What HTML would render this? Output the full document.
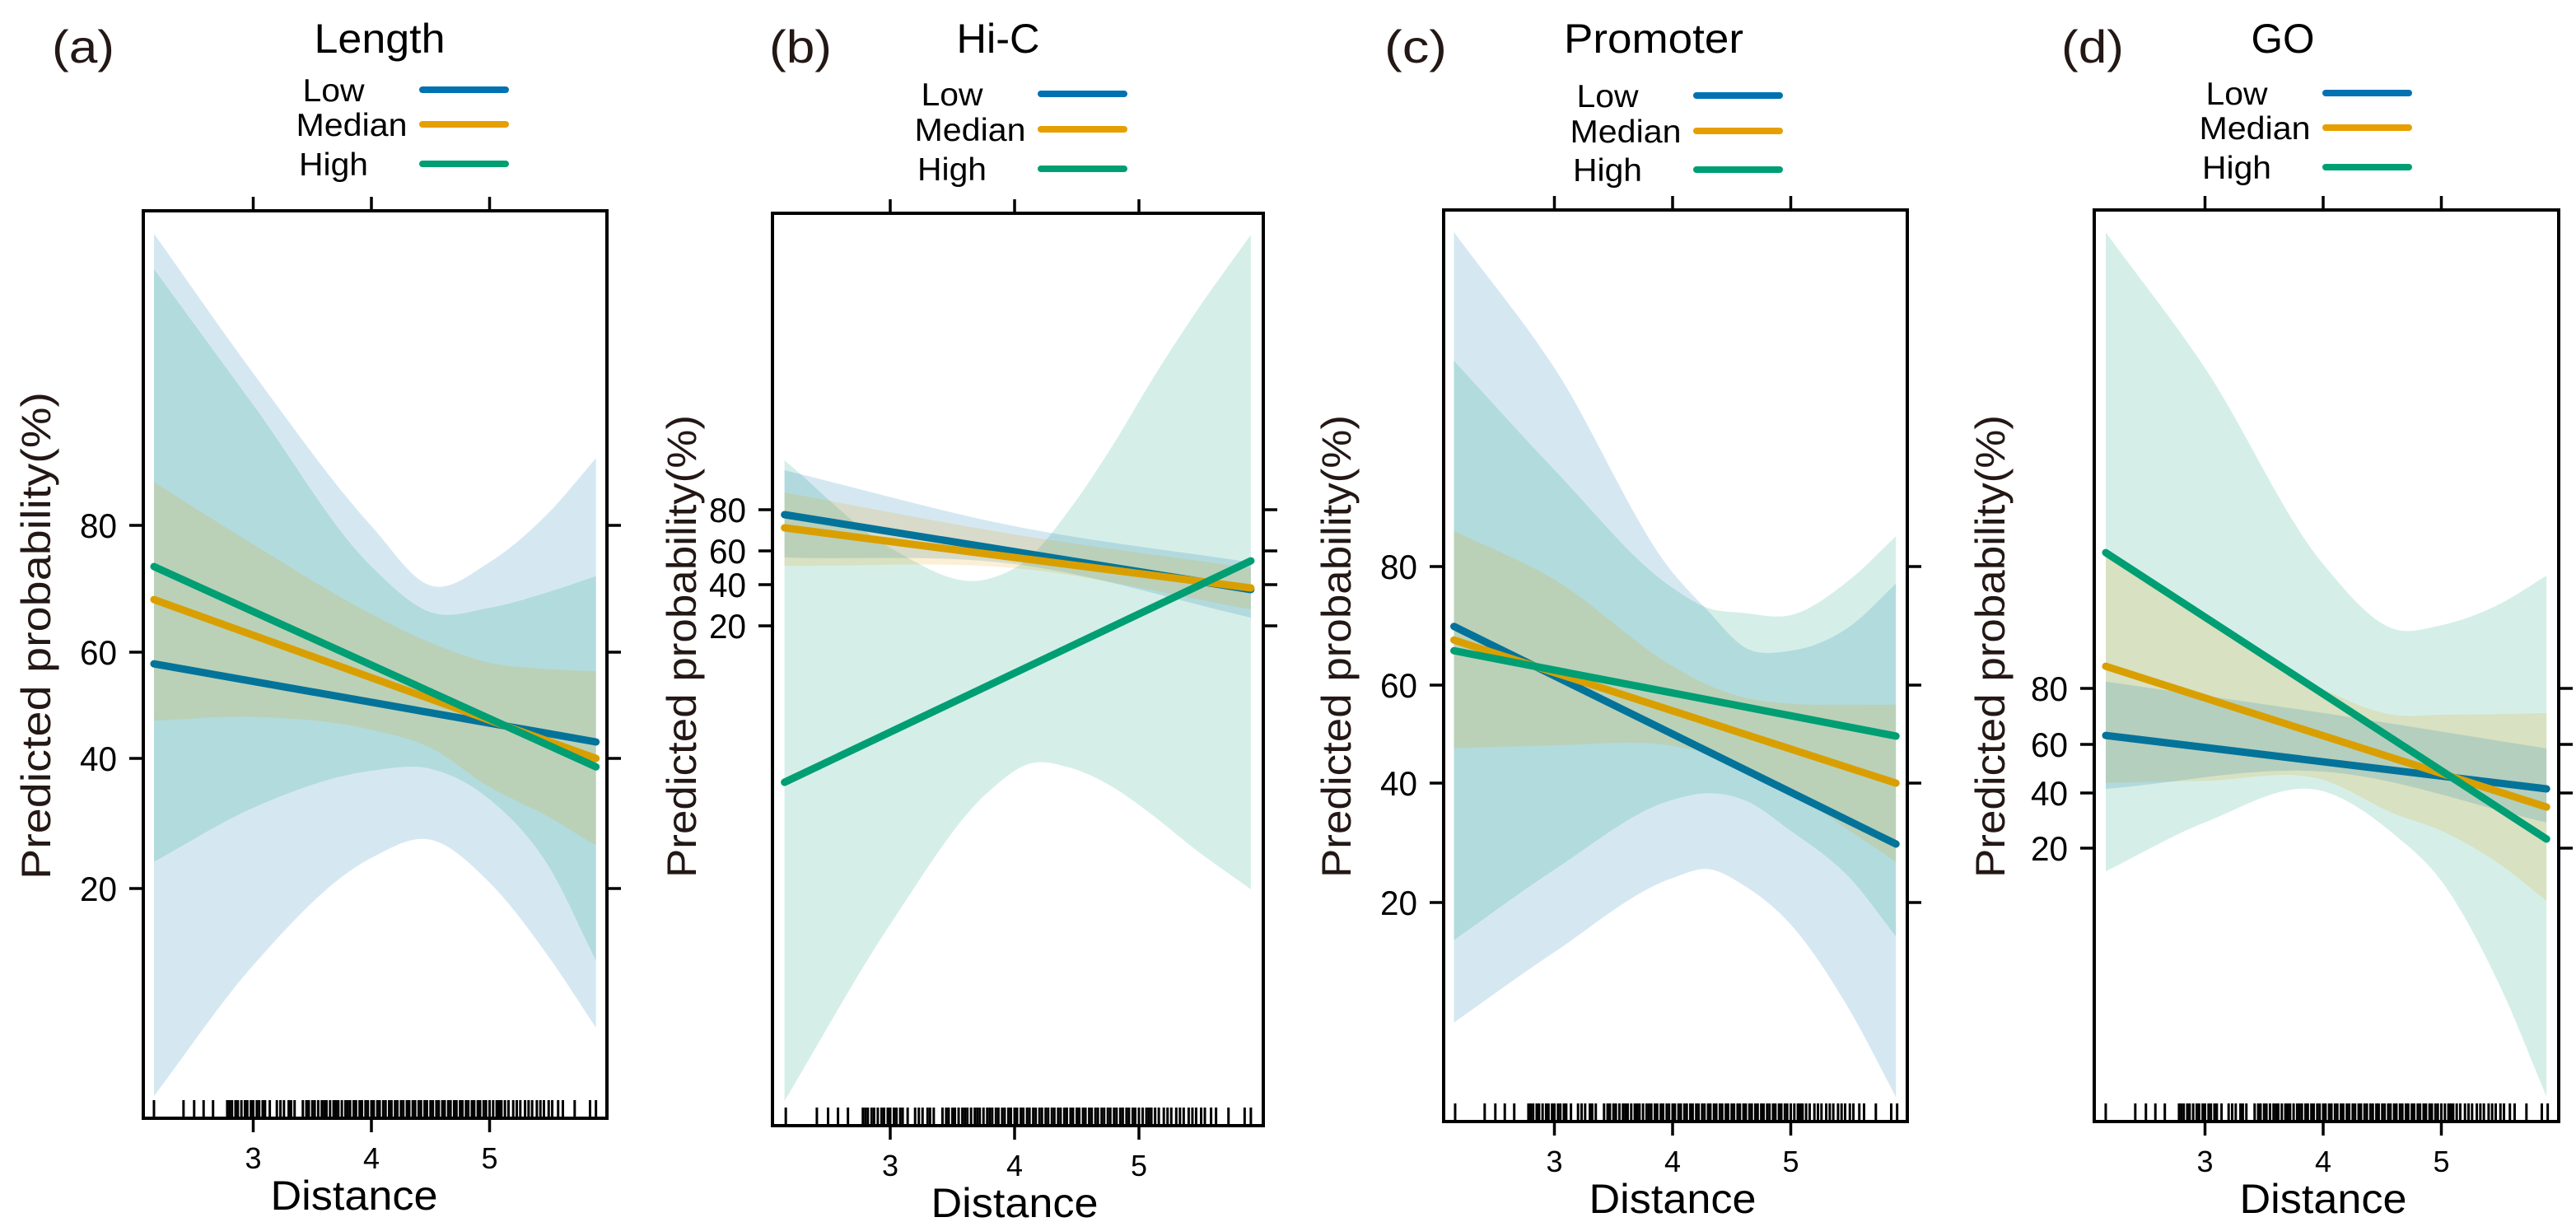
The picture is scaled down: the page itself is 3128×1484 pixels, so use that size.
<!DOCTYPE html>
<html><head><meta charset="utf-8">
<style>
html,body{margin:0;padding:0;background:#fff;}
svg{display:block;font-family:"Liberation Sans",Arial,sans-serif;}
</style></head>
<body>
<svg id="chart" width="3128" height="1484" viewBox="0 0 3128 1484" xmlns="http://www.w3.org/2000/svg"></svg>
<script>
// ---------- shared data ----------
const tickVals = [20, 40, 60, 80];
const xTickVals = [3, 4, 5];
const levelNames = ["Low", "Median", "High"];
const rug = [2.16,2.41,2.5,2.58,2.66,2.78,2.8,2.82,2.85,2.87,2.9,2.93,2.95,2.98,3.0,3.03,3.05,3.08,3.1,3.14,3.2,3.23,3.26,3.3,3.32,3.35,3.42,3.45,3.47,3.5,3.52,3.55,3.58,3.6,3.62,3.65,3.68,3.7,3.72,3.75,3.78,3.8,3.82,3.85,3.87,3.9,3.92,3.95,3.97,4.0,4.02,4.05,4.07,4.1,4.12,4.15,4.17,4.2,4.22,4.25,4.27,4.3,4.32,4.35,4.37,4.4,4.42,4.45,4.47,4.5,4.52,4.55,4.57,4.6,4.62,4.65,4.67,4.7,4.72,4.75,4.77,4.8,4.82,4.85,4.87,4.9,4.92,4.95,4.97,5.0,5.03,5.06,5.08,5.1,5.13,5.16,5.2,5.23,5.26,5.3,5.33,5.36,5.4,5.43,5.46,5.5,5.53,5.58,5.62,5.72,5.85,5.9];

// ---------- panel (a) Length ----------
const aLineX = [2.16, 5.9];
const aLow = [57.8, 43.1];
const aMed = [68.3, 40.0];
const aHigh = [73.5, 38.7];
const aBandX = [2.16, 3, 4, 4.5, 5, 5.5, 5.9];
const aLowUp = [126, 104, 79.9, 70.5, 74.2, 82, 90.6];
const aLowLo = [-11.9, 8.2, 24.7, 27.5, 20.9, 9.5, -1.4];
const aHighUp = [120.4, 99, 73.5, 66.3, 67, 69.5, 72];
const aHighLo = [24.1, 32.4, 38.1, 38.4, 33.7, 23.4, 8.9];
const aMedUp = [86.8, 77, 66, 61.5, 58, 56.8, 56.4];
const aMedLo = [47.1, 47.8, 45.4, 42, 35.6, 31, 26.6];

// ---------- panel (b) Hi-C ----------
const bLineX = [2.15, 5.9];
const bLow = [77.6, 37.6];
const bMed = [71.2, 38.4];
const bHigh = [-56, 54.1];
const bHighBandX = [2.15, 3, 3.79, 4.12, 4.45, 4.78, 5.11, 5.44, 5.9];
const bHighUp = [104, 61.5, 43.4, 56.1, 80.8, 110.4, 143.6, 174.4, 213.6];
const bHighLo = [-210.8, -125, -60.6, -47, -49, -58, -72, -88, -108];
const bBandX = [2.15, 4, 5.9];
const bLowUp = [99.2, 72, 53.2];
const bLowLo = [56.1, 52.2, 24];
const bMedUp = [88.4, 68, 49.8];
const bMedLo = [51.2, 49.8, 28];

// ---------- panel (c) Promoter ----------
const cLineX = [2.15, 5.89];
const cLow = [69.9, 29.8];
const cMed = [67.6, 40.0];
const cHigh = [65.8, 49.6];
const cBandX = [2.15, 3, 4, 4.3, 4.6, 5, 5.5, 5.89];
const cLowUp = [136.4, 113.5, 79, 72.5, 66.5, 65.8, 69.9, 77.1];
const cLowLo = [-0.1, 11.7, 24.1, 25.6, 22.9, 16.3, 1.9, -12.6];
const cHighUp = [114.7, 96.3, 76.4, 73, 72.2, 71.8, 77.8, 85.1];
const cHighLo = [13.7, 25.5, 37.2, 38.3, 37.2, 32, 24.1, 14.3];
const cMedUp = [86, 77.8, 63.2, 60, 57.5, 56.2, 56, 56];
const cMedLo = [47.1, 47.7, 47.6, 46, 43, 38.6, 32, 26.8];

// ---------- panel (d) GO ----------
const dLineX = [2.16, 5.89];
const dLow = [63.2, 41.7];
const dMed = [87.9, 34.9];
const dHigh = [128.5, 23.3];
const dBandX = [2.16, 3, 4, 4.6, 5, 5.5, 5.89];
const dHighUp = [242.9, 194.4, 124.4, 101.2, 102.6, 110.3, 120.3];
const dHighLo = [11.6, 29.3, 40.7, 25, 8.1, -30.4, -70.1];
const dMedUp = [128.5, 105, 79.7, 70.5, 70.6, 70.8, 71.2];
const dMedLo = [44.1, 45, 45.4, 32.5, 26.3, 14, 0.9];
const dLowBandX = [2.16, 4, 5.89];
const dLowUp = [82.4, 71.2, 58.3];
const dLowLo = [41.7, 48.8, 29.3];

// ---------- layout (pixel geometry, not data) ----------
const panels = [
  {id:"a", tag:"(a)", tagX:101, title:"Length", titleW:159, L:174, R:737, T:256, B:1358, x4:451, ppu:143.5,
   ty:[1079,921,792,638], legX:513, legY:[109,151,199], titleY:64, ylabX:44, ylabY:772, ylabW:592,
   lineX:aLineX, lines:[aLow,aMed,aHigh],
   bands:[[aBandX,aLowUp,aLowLo,0],[aBandX,aHighUp,aHighLo,2],[aBandX,aMedUp,aMedLo,1]]},
  {id:"b", tag:"(b)", tagX:972, title:"Hi-C", titleW:101, L:938, R:1534, T:259, B:1367, x4:1232, ppu:151,
   ty:[760,710,669,619], legX:1264, legY:[114,157,205], titleY:64, ylabX:828, ylabY:785, ylabW:562,
   lineX:bLineX, lines:[bLow,bMed,bHigh],
   bands:[[bHighBandX,bHighUp,bHighLo,2],[bBandX,bLowUp,bLowLo,0],[bBandX,bMedUp,bMedLo,1]]},
  {id:"c", tag:"(c)", tagX:1719, title:"Promoter", titleW:218, L:1753, R:2316, T:255, B:1362, x4:2031, ppu:143.5,
   ty:[1096,951,832,688], legX:2060, legY:[116,159,206], titleY:64, ylabX:1623, ylabY:785, ylabW:562,
   lineX:cLineX, lines:[cLow,cMed,cHigh],
   bands:[[cBandX,cLowUp,cLowLo,0],[cBandX,cHighUp,cHighLo,2],[cBandX,cMedUp,cMedLo,1]]},
  {id:"d", tag:"(d)", tagX:2541, title:"GO", titleW:77, L:2543, R:3107, T:255, B:1362, x4:2821, ppu:143.5,
   ty:[1030,963,904,836], legX:2824, legY:[113,155,203], titleY:64, ylabX:2417, ylabY:785, ylabW:562,
   lineX:dLineX, lines:[dLow,dMed,dHigh],
   bands:[[dBandX,dHighUp,dHighLo,2],[dBandX,dMedUp,dMedLo,1],[dLowBandX,dLowUp,dLowLo,0]]}
];
const lineColors = ["#0072B2", "#E69F00", "#009E73"];
const drawColors = ["#03739a", "#d99f00", "#009E73"];
const NS = "http://www.w3.org/2000/svg";
const svg = document.getElementById("chart");

function mk(tag, attrs, parent){
  const e = document.createElementNS(NS, tag);
  for (const k in attrs) e.setAttribute(k, attrs[k]);
  (parent || svg).appendChild(e);
  return e;
}
function xScale(p, d){ return p.x4 + (d - 4) * p.ppu; }
function yScale(p, v){
  const t = tickVals, y = p.ty;
  let i = 0;
  if (v <= t[0]) i = 0;
  else if (v >= t[t.length-1]) i = t.length - 2;
  else { while (v > t[i+1]) i++; }
  return y[i] + (v - t[i]) * (y[i+1] - y[i]) / (t[i+1] - t[i]);
}
function smooth(pts){
  const n = pts.length;
  const sec = [];
  for (let i = 0; i < n - 1; i++) sec.push((pts[i+1][1]-pts[i][1])/(pts[i+1][0]-pts[i][0]));
  const m = [];
  for (let i = 0; i < n; i++){
    if (i === 0) m.push(sec[0]);
    else if (i === n-1) m.push(sec[n-2]);
    else {
      const h0 = pts[i][0]-pts[i-1][0], h1 = pts[i+1][0]-pts[i][0];
      m.push((sec[i-1]*h1 + sec[i]*h0)/(h0+h1));
    }
  }
  let s = "";
  for (let i = 0; i < n - 1; i++){
    const dx = pts[i+1][0]-pts[i][0];
    const c1x = pts[i][0] + dx/3, c1y = pts[i][1] + m[i]*dx/3;
    const c2x = pts[i+1][0] - dx/3, c2y = pts[i+1][1] - m[i+1]*dx/3;
    s += " C" + c1x.toFixed(1) + "," + c1y.toFixed(1) + " " + c2x.toFixed(1) + "," + c2y.toFixed(1) + " " + pts[i+1][0].toFixed(1) + "," + pts[i+1][1].toFixed(1);
  }
  return s;
}

panels.forEach(p => {
  const g = mk("g", {});
  
  

  const clip = mk("clipPath", {id:"clip-" + p.id}, g);
  mk("rect", {x:p.L, y:p.T, width:p.R-p.L, height:p.B-p.T}, clip);

  const tag = mk("text", {x:p.tagX, y:76, "font-size":56, fill:"#231815", "text-anchor":"middle", textLength:76, lengthAdjust:"spacingAndGlyphs"}, g);
  tag.textContent = p.tag;
  
  

  const tt = mk("text", {x:p.legX - 52, y:p.titleY, "font-size":50, fill:"#000", "text-anchor":"middle", textLength:p.titleW, lengthAdjust:"spacingAndGlyphs"}, g);
  tt.textContent = p.title;
  
  

  const legW = [75, 135, 84];
  const legOff = [108, 86, 108];
  levelNames.forEach((n, i) => {
    const lg = mk("g", {}, g);
    
    
    const lt = mk("text", {x:p.legX - legOff[i], y:p.legY[i] + 14, "font-size":39, fill:"#000", "text-anchor":"middle", textLength:legW[i], lengthAdjust:"spacingAndGlyphs"}, lg);
    lt.textContent = n;
    mk("line", {x1:p.legX, x2:p.legX + 101, y1:p.legY[i], y2:p.legY[i], stroke:lineColors[i], "stroke-width":8, "stroke-linecap":"round"}, lg);
  });

  const bg = mk("g", {"clip-path":"url(#clip-" + p.id + ")"}, g);
  p.bands.forEach(b => {
    const [xs, up, lo, ci] = b;
    const upPts = xs.map((d, i) => [xScale(p, d), yScale(p, up[i])]);
    const loPts = xs.map((d, i) => [xScale(p, d), yScale(p, lo[i])]).reverse();
    const dstr = "M" + upPts[0][0].toFixed(1) + "," + upPts[0][1].toFixed(1) + smooth(upPts) +
      " L" + loPts[0][0].toFixed(1) + "," + loPts[0][1].toFixed(1) + smooth(loPts) + " Z";
    const path = mk("path", {d:dstr, fill:lineColors[ci], "fill-opacity":0.165, stroke:"none"}, bg);
    
    
  });

  p.lines.forEach((vals, i) => {
    const ln = mk("line", {x1:xScale(p, p.lineX[0]), y1:yScale(p, vals[0]), x2:xScale(p, p.lineX[1]), y2:yScale(p, vals[1]),
      stroke:drawColors[i], "stroke-width":9, "stroke-linecap":"round"}, g);
    
    
  });

  const rg = mk("g", {}, g);
  
  
  rug.forEach(d => {
    mk("line", {x1:xScale(p, d), x2:xScale(p, d), y1:p.B, y2:p.B - 22, stroke:"#000", "stroke-width":3}, rg);
  });

  const box = mk("rect", {x:p.L, y:p.T, width:p.R-p.L, height:p.B-p.T, fill:"none", stroke:"#000", "stroke-width":4}, g);
  
  

  const xa = mk("g", {}, g);
  
  
  xTickVals.forEach(v => {
    const x = xScale(p, v);
    mk("line", {x1:x, x2:x, y1:p.B, y2:p.B + 17, stroke:"#000", "stroke-width":3.5}, xa);
    mk("line", {x1:x, x2:x, y1:p.T, y2:p.T - 17, stroke:"#000", "stroke-width":3.5}, xa);
    const t = mk("text", {x:x, y:p.B + 61, "font-size":36, fill:"#000", "text-anchor":"middle"}, xa);
    t.textContent = v;
  });
  const xt = mk("text", {x:xScale(p, 4) - (p.id === "a" ? 21 : 0), y:p.B + 111, "font-size":50, fill:"#000", "text-anchor":"middle", textLength:203, lengthAdjust:"spacingAndGlyphs"}, g);
  xt.textContent = "Distance";
  
  

  const ya = mk("g", {}, g);
  
  
  tickVals.forEach(v => {
    const y = yScale(p, v);
    mk("line", {x1:p.L, x2:p.L - 17, y1:y, y2:y, stroke:"#000", "stroke-width":3.5}, ya);
    mk("line", {x1:p.R, x2:p.R + 17, y1:y, y2:y, stroke:"#000", "stroke-width":3.5}, ya);
    const t = mk("text", {x:p.L - 32, y:y + 15, "font-size":42, fill:"#000", "text-anchor":"end", textLength:45, lengthAdjust:"spacingAndGlyphs"}, ya);
    t.textContent = v;
  });
  const yt = mk("text", {x:0, y:0, "font-size":50, fill:"#231815", "text-anchor":"middle", textLength:p.ylabW, lengthAdjust:"spacingAndGlyphs",
    transform:"translate(" + (p.ylabX + 17) + "," + p.ylabY + ") rotate(-90)"}, g);
  yt.textContent = "Predicted probability(%)";
  
  
});
</script>
</body></html>
